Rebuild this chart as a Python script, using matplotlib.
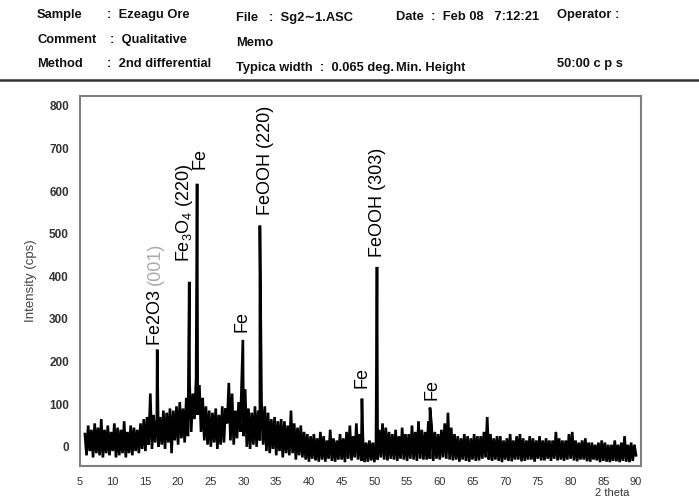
import numpy as np
import matplotlib
matplotlib.use("Agg")
import matplotlib.pyplot as plt
from matplotlib.lines import Line2D

plt.rcParams['font.family'] = ['Liberation Sans', 'DejaVu Sans']
plt.rcParams['mathtext.fontset'] = 'custom'
plt.rcParams['mathtext.rm'] = 'Liberation Sans'
plt.rcParams['mathtext.it'] = 'Liberation Sans:italic'
plt.rcParams['mathtext.sf'] = 'Liberation Sans'

# ---------------- data ----------------
two_theta_start = 5.75
two_theta_step = 0.25
baseline = [
    30,
    -20, 50, -10, 40,
    -25, 55, -15, 45,
    -20, 65, -25, 40,
    -15, 50, -20, 35,
    -10, 55, -25, 45,
    -20, 40, -15, 60,
    -25, 35, -15, 50,
    -20, 45, -10, 40,
    -15, 55, -5, 65,
    -10, 70, 5, 125,
    -5, 75, 10, 65,
    0, 70, 5, 85,
    -5, 80, 10, 90,
    -15, 85, 15, 95,
    5, 105, 20, 90,
    10, 115, 25, 150,
    35, 125, 65, 160,
    75, 145, 35, 115,
    15, 95, 5, 85,
    0, 80, 10, 90,
    -5, 75, 5, 95,
    10, 90, 55, 150,
    15, 125, 5, 85,
    20, 105, 35, 170,
    25, 135, 0, 90,
    -5, 80, 5, 95,
    0, 85, 15, 105,
    5, 95, -10, 80,
    -15, 65, -5, 70,
    -20, 60, -10, 65,
    -25, 60, -15, 50,
    -20, 85, -15, 55,
    -30, 45, -20, 50,
    -25, 35, -30, 30,
    -35, 25, -28, 30,
    -32, 20, -35, 35,
    -30, 25, -35, 15,
    -28, 40, -33, 20,
    -35, 15, -30, 30,
    -30, 20, -36, 35,
    -28, 50, -32, 25,
    -25, 55, -30, 30,
    -33, 20, -36, 10,
    -35, 15, -32, 10,
    -36, 15, -30, 40,
    -25, 55, -30, 45,
    -32, 35, -28, 30,
    -30, 40, -33, 25,
    -28, 45, -30, 30,
    -33, 30, -28, 50,
    -30, 35, -33, 60,
    -28, 40, -30, 35,
    -30, 60, -28, 50,
    -33, 35, -28, 30,
    -30, 40, -25, 55,
    -28, 80, -30, 45,
    -32, 30, -30, 25,
    -35, 20, -30, 30,
    -33, 25, -35, 20,
    -30, 30, -33, 25,
    -32, 25, -28, 35,
    -25, 70, -30, 30,
    -33, 20, -30, 25,
    -33, 25, -36, 15,
    -30, 20, -33, 30,
    -34, 15, -30, 25,
    -30, 30, -34, 20,
    -33, 15, -30, 25,
    -30, 20, -35, 15,
    -28, 25, -32, 15,
    -32, 20, -28, 15,
    -33, 15, -28, 35,
    -32, 20, -30, 15,
    -33, 15, -30, 30,
    -28, 35, -32, 15,
    -34, 10, -30, 15,
    -30, 20, -34, 10,
    -35, 10, -30, 5,
    -32, 10, -36, 15,
    -33, 10, -35, 5,
    -36, 5, -33, 15,
    -34, 5, -36, 10,
    -33, 25, -35, 5,
    -36, 10, -33, 5,
    -20,
]

peak_pos = [16.8, 21.7, 22.9, 29.9, 32.5, 48.1, 50.4, 58.5]
peak_height = [228, 387, 617, 251, 519, 113, 422, 92]

label_text = ["Fe2O3 ", r"Fe$_{\mathsf{3}}$O$_{\mathsf{4}}$ (220)", "Fe", "Fe",
              "FeOOH (220)", "Fe", "FeOOH (303)", "Fe"]
label_x = [16.5, 21.05, 23.35, 29.8, 33.3, 48.1, 50.55, 58.8]
label_y = [239, 434, 652, 270, 545, 138, 446, 110]

x_ticks = [5, 10, 15, 20, 25, 30, 35, 40, 45, 50, 55, 60, 65, 70, 75, 80, 85, 90]
y_ticks = [0, 100, 200, 300, 400, 500, 600, 700, 800]

header = [
    # (x px, y px, text)
    (37, 15, "Sample"), (107, 15, ":  Ezeagu Ore"),
    (37, 40, "Comment"), (110, 40, ":  Qualitative"),
    (37, 64, "Method"), (107, 64, ":  2nd differential"),
    (236, 18, "File   :  Sg2\u223c1.ASC"), (236, 43, "Memo"),
    (236, 68, "Typica width  :  0.065 deg."),
    (396, 17, "Date  :  Feb 08   7:12:21"), (396, 68, "Min. Height"),
    (557, 15, "Operator :"), (557, 64, "50:00 c p s"),
]

# ---------------- build trace ----------------
bx = two_theta_start + two_theta_step * np.arange(len(baseline))
by = np.array(baseline, dtype=float)
xs = np.concatenate([bx, np.array(peak_pos)])
ys = np.concatenate([by, np.array(peak_height, dtype=float)])
order = np.argsort(xs, kind="stable")
xs, ys = xs[order], ys[order]

# ---------------- figure ----------------
W, H = 699, 498
fig = plt.figure(figsize=(W / 100, H / 100), dpi=100)
ax = fig.add_axes([80 / W, 1 - 466 / H, (641 - 80) / W, (466 - 96) / H])

ax.plot(xs, ys, color='black', lw=1.9, solid_joinstyle='miter')
ax.set_xlim(5, 90.76)
ax.set_ylim(-45, 823)
ax.set_xticks(x_ticks)
ax.set_yticks(y_ticks)
ax.tick_params(length=0)
ax.tick_params(axis='x', pad=8, labelsize=8, labelcolor='#333333')
ax.tick_params(axis='y', pad=8, labelsize=8.5, labelcolor='#333333')
for lab in ax.get_yticklabels():
    lab.set_fontweight('bold')
for s in ax.spines.values():
    s.set_color('#808080')
    s.set_linewidth(1.5)

ax.set_ylabel("Intensity (cps)", fontsize=9.5, color='#444444', labelpad=9)
fig.text(612 / W, 1 - 493 / H, "2 theta", ha='center', va='center',
         fontsize=8, color='#333333')

# peak labels
texts = []
for t, lx, ly in zip(label_text, label_x, label_y):
    tt = ax.text(lx, ly, t, rotation=90, ha='center', va='bottom',
                 fontsize=13, color='black')
    texts.append(tt)
ax.annotate("(001)", xy=(0.5, 1.0), xycoords=texts[0], rotation=90,
            ha='center', va='bottom', fontsize=13, color='#aaaaaa')

# header
for hx, hy, ht in header:
    fig.text(hx / W, 1 - hy / H, ht, ha='left', va='center', fontsize=9.3,
             fontweight='bold', color='#111111')
fig.add_artist(Line2D([0, 1], [1 - 80 / H, 1 - 80 / H], color='#333333',
                      lw=1.8, transform=fig.transFigure))

fig.savefig("out.png", dpi=100)
